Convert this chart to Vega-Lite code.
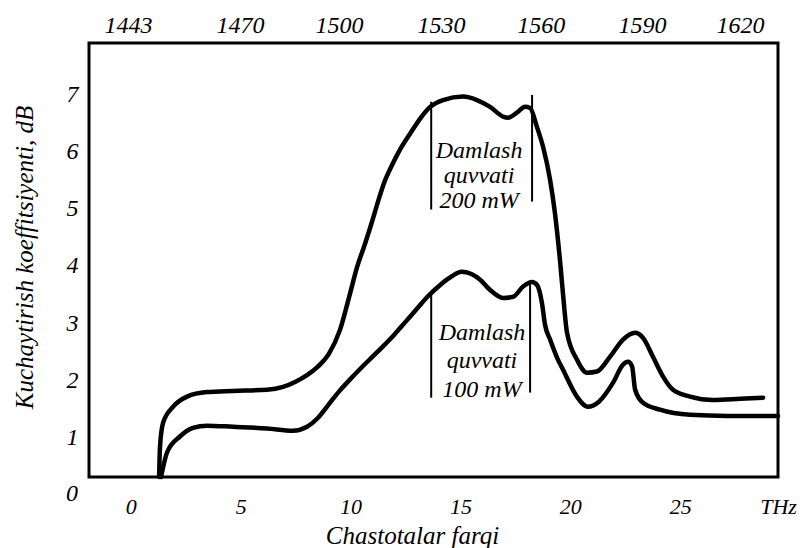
{
  "$schema": "https://vega.github.io/schema/vega-lite/v6.json",
  "width": 689,
  "height": 434,
  "autosize": {"type": "none"},
  "padding": {"left": 89, "top": 43, "right": 29, "bottom": 71},
  "background": "white",
  "config": {
    "view": {"stroke": "black", "strokeWidth": 3},
    "font": "Liberation Serif",
    "axis": {
      "labelFont": "Liberation Serif", "labelFontStyle": "italic", "labelFontSize": 24, "labelColor": "black",
      "titleFont": "Liberation Serif", "titleFontStyle": "italic", "titleFontSize": 24, "titleFontWeight": "normal", "titleColor": "black",
      "domain": false, "ticks": false, "tickSize": 0, "grid": false, "labelOverlap": false, "labelFlush": false, "labelBound": false
    }
  },
  "datasets": {
    "curves": [
      {"s": "200 mW", "f": 1.29, "g": 0.3},
      {"s": "200 mW", "f": 1.33, "g": 0.83},
      {"s": "200 mW", "f": 1.47, "g": 1.25},
      {"s": "200 mW", "f": 1.92, "g": 1.53},
      {"s": "200 mW", "f": 2.56, "g": 1.71},
      {"s": "200 mW", "f": 3.47, "g": 1.79},
      {"s": "200 mW", "f": 4.65, "g": 1.81},
      {"s": "200 mW", "f": 6.2, "g": 1.83},
      {"s": "200 mW", "f": 6.93, "g": 1.88},
      {"s": "200 mW", "f": 7.5, "g": 1.97},
      {"s": "200 mW", "f": 8.0, "g": 2.08},
      {"s": "200 mW", "f": 8.5, "g": 2.23},
      {"s": "200 mW", "f": 9.0, "g": 2.45},
      {"s": "200 mW", "f": 9.52, "g": 2.88},
      {"s": "200 mW", "f": 9.98, "g": 3.52},
      {"s": "200 mW", "f": 10.29, "g": 3.97},
      {"s": "200 mW", "f": 10.66, "g": 4.39},
      {"s": "200 mW", "f": 10.98, "g": 4.78},
      {"s": "200 mW", "f": 11.25, "g": 5.13},
      {"s": "200 mW", "f": 11.53, "g": 5.46},
      {"s": "200 mW", "f": 11.89, "g": 5.77},
      {"s": "200 mW", "f": 12.25, "g": 6.04},
      {"s": "200 mW", "f": 12.71, "g": 6.32},
      {"s": "200 mW", "f": 13.16, "g": 6.58},
      {"s": "200 mW", "f": 13.62, "g": 6.79},
      {"s": "200 mW", "f": 14.21, "g": 6.91},
      {"s": "200 mW", "f": 15.12, "g": 6.97},
      {"s": "200 mW", "f": 15.75, "g": 6.91},
      {"s": "200 mW", "f": 16.35, "g": 6.79},
      {"s": "200 mW", "f": 16.94, "g": 6.62},
      {"s": "200 mW", "f": 17.17, "g": 6.6},
      {"s": "200 mW", "f": 17.57, "g": 6.69},
      {"s": "200 mW", "f": 17.94, "g": 6.79},
      {"s": "200 mW", "f": 18.17, "g": 6.77},
      {"s": "200 mW", "f": 18.48, "g": 6.44},
      {"s": "200 mW", "f": 18.76, "g": 6.09},
      {"s": "200 mW", "f": 19.08, "g": 5.51},
      {"s": "200 mW", "f": 19.3, "g": 4.93},
      {"s": "200 mW", "f": 19.53, "g": 4.1},
      {"s": "200 mW", "f": 19.67, "g": 3.5},
      {"s": "200 mW", "f": 19.85, "g": 2.83},
      {"s": "200 mW", "f": 20.3, "g": 2.36},
      {"s": "200 mW", "f": 20.76, "g": 2.13},
      {"s": "200 mW", "f": 21.21, "g": 2.15},
      {"s": "200 mW", "f": 21.81, "g": 2.41},
      {"s": "200 mW", "f": 22.4, "g": 2.71},
      {"s": "200 mW", "f": 22.95, "g": 2.83},
      {"s": "200 mW", "f": 23.31, "g": 2.74},
      {"s": "200 mW", "f": 23.76, "g": 2.41},
      {"s": "200 mW", "f": 24.22, "g": 2.06},
      {"s": "200 mW", "f": 24.67, "g": 1.83},
      {"s": "200 mW", "f": 25.45, "g": 1.71},
      {"s": "200 mW", "f": 26.49, "g": 1.65},
      {"s": "200 mW", "f": 27.72, "g": 1.67},
      {"s": "200 mW", "f": 28.77, "g": 1.69},
      {"s": "100 mW", "f": 1.38, "g": 0.3},
      {"s": "100 mW", "f": 1.65, "g": 0.73},
      {"s": "100 mW", "f": 2.24, "g": 1.01},
      {"s": "100 mW", "f": 2.83, "g": 1.16},
      {"s": "100 mW", "f": 3.47, "g": 1.2},
      {"s": "100 mW", "f": 4.65, "g": 1.18},
      {"s": "100 mW", "f": 6.2, "g": 1.15},
      {"s": "100 mW", "f": 7.38, "g": 1.11},
      {"s": "100 mW", "f": 8.02, "g": 1.18},
      {"s": "100 mW", "f": 8.5, "g": 1.33},
      {"s": "100 mW", "f": 9.0, "g": 1.57},
      {"s": "100 mW", "f": 9.5, "g": 1.81},
      {"s": "100 mW", "f": 10.0, "g": 2.02},
      {"s": "100 mW", "f": 10.5, "g": 2.22},
      {"s": "100 mW", "f": 11.0, "g": 2.41},
      {"s": "100 mW", "f": 11.5, "g": 2.6},
      {"s": "100 mW", "f": 12.0, "g": 2.8},
      {"s": "100 mW", "f": 12.5, "g": 3.02},
      {"s": "100 mW", "f": 13.0, "g": 3.24},
      {"s": "100 mW", "f": 13.5, "g": 3.46},
      {"s": "100 mW", "f": 14.0, "g": 3.64},
      {"s": "100 mW", "f": 14.5, "g": 3.79},
      {"s": "100 mW", "f": 15.05, "g": 3.9},
      {"s": "100 mW", "f": 15.5, "g": 3.86},
      {"s": "100 mW", "f": 15.9, "g": 3.76},
      {"s": "100 mW", "f": 16.35, "g": 3.58},
      {"s": "100 mW", "f": 16.94, "g": 3.44},
      {"s": "100 mW", "f": 17.4, "g": 3.46},
      {"s": "100 mW", "f": 17.85, "g": 3.64},
      {"s": "100 mW", "f": 18.26, "g": 3.72},
      {"s": "100 mW", "f": 18.48, "g": 3.67},
      {"s": "100 mW", "f": 18.71, "g": 3.35},
      {"s": "100 mW", "f": 18.85, "g": 2.97},
      {"s": "100 mW", "f": 19.08, "g": 2.71},
      {"s": "100 mW", "f": 19.4, "g": 2.39},
      {"s": "100 mW", "f": 19.67, "g": 2.18},
      {"s": "100 mW", "f": 20.3, "g": 1.71},
      {"s": "100 mW", "f": 20.8, "g": 1.53},
      {"s": "100 mW", "f": 21.3, "g": 1.62},
      {"s": "100 mW", "f": 21.94, "g": 1.95},
      {"s": "100 mW", "f": 22.4, "g": 2.27},
      {"s": "100 mW", "f": 22.63, "g": 2.32},
      {"s": "100 mW", "f": 22.81, "g": 2.24},
      {"s": "100 mW", "f": 22.95, "g": 1.83},
      {"s": "100 mW", "f": 23.31, "g": 1.6},
      {"s": "100 mW", "f": 24.08, "g": 1.48},
      {"s": "100 mW", "f": 25.45, "g": 1.39},
      {"s": "100 mW", "f": 27.13, "g": 1.37},
      {"s": "100 mW", "f": 29.45, "g": 1.37}
    ],
    "brackets": [
      {"f": 13.67, "g1": 6.88, "g2": 4.99},
      {"f": 18.26, "g1": 7.0, "g2": 5.13},
      {"f": 13.67, "g1": 3.5, "g2": 1.69},
      {"f": 18.17, "g1": 3.71, "g2": 1.78}
    ],
    "notes": [
      {"f": 15.85, "g": 5.89, "t": "Damlash"},
      {"f": 15.85, "g": 5.45, "t": "quvvati"},
      {"f": 15.85, "g": 5.02, "t": "200 mW"},
      {"f": 15.98, "g": 2.71, "t": "Damlash"},
      {"f": 15.98, "g": 2.22, "t": "quvvati"},
      {"f": 15.98, "g": 1.71, "t": "100 mW"}
    ],
    "zero": [{"f": -1.9, "g": 0, "t": "0"}]
  },
  "resolve": {"axis": {"x": "independent", "y": "independent"}},
  "layer": [
    {
      "data": {"name": "curves"},
      "mark": {"type": "line", "color": "black", "strokeWidth": 4.5, "interpolate": "monotone", "strokeCap": "round", "strokeJoin": "round"},
      "encoding": {
        "x": {"field": "f", "type": "quantitative",
          "scale": {"domain": [-1.9, 29.45], "nice": false, "zero": false},
          "axis": {"orient": "bottom", "values": [0, 5, 10, 15, 20, 25, 29.45], "labelExpr": "datum.value > 28 ? 'THz' : datum.label",
            "labelBaseline": "alphabetic", "labelPadding": 36, "labelFontSize": 22,
            "title": "Chastotalar farqi", "titleFontSize": 25, "titleX": 323, "titleY": 66, "titleBaseline": "alphabetic", "titleAnchor": "middle"}},
        "y": {"field": "g", "type": "quantitative",
          "scale": {"domain": [0.3, 7.91], "nice": false, "zero": false},
          "axis": {"orient": "left", "values": [1, 2, 3, 4, 5, 6, 7], "labelPadding": 11,
            "title": "Kuchaytirish koeffitsiyenti, dB", "titleFontSize": 25, "titleX": -57, "titleY": 214, "titleBaseline": "alphabetic", "titleAnchor": "middle", "titleAngle": -90}},
        "detail": {"field": "s"}
      }
    },
    {
      "data": {"name": "brackets"},
      "mark": {"type": "rule", "color": "black", "strokeWidth": 2},
      "encoding": {
        "x": {"field": "f", "type": "quantitative",
          "axis": {"orient": "top", "values": [-0.12, 4.97, 9.48, 14.12, 18.65, 23.26, 27.72],
            "labelExpr": "datum.value < 2 ? '1443' : datum.value < 7 ? '1470' : datum.value < 12 ? '1500' : datum.value < 16 ? '1530' : datum.value < 21 ? '1560' : datum.value < 25 ? '1590' : '1620'",
            "labelBaseline": "alphabetic", "labelPadding": 11, "title": null}},
        "y": {"field": "g1", "type": "quantitative", "axis": null},
        "y2": {"field": "g2"}
      }
    },
    {
      "data": {"name": "notes"},
      "mark": {"type": "text", "font": "Liberation Serif", "fontStyle": "italic", "fontSize": 24, "color": "black", "align": "center", "baseline": "alphabetic"},
      "encoding": {
        "x": {"field": "f", "type": "quantitative", "axis": null},
        "y": {"field": "g", "type": "quantitative", "axis": null},
        "text": {"field": "t"}
      }
    },
    {
      "data": {"name": "zero"},
      "mark": {"type": "text", "font": "Liberation Serif", "fontStyle": "italic", "fontSize": 24, "color": "black", "align": "right", "baseline": "middle", "dx": -11},
      "encoding": {
        "x": {"field": "f", "type": "quantitative", "axis": null},
        "y": {"field": "g", "type": "quantitative", "axis": null},
        "text": {"field": "t"}
      }
    }
  ]
}
